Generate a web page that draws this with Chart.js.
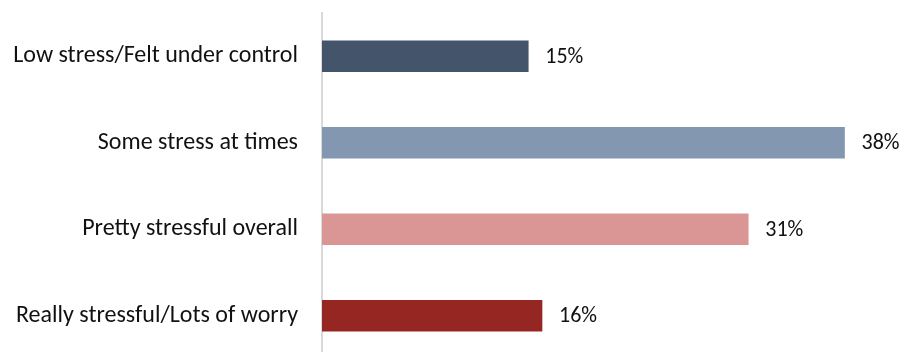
<!DOCTYPE html>
<html><head><meta charset="utf-8">
<script src="https://cdn.jsdelivr.net/npm/chart.js@4"></script>
<style>html,body{margin:0;padding:0;overflow:hidden;background:#fff;width:903px;height:352px}</style>
</head><body>
<canvas id="c" width="903" height="359"></canvas>
<script>
const categories = ["Low stress/Felt under control","Some stress at times","Pretty stressful overall","Really stressful/Lots of worry"];
const values = [15, 38, 31, 16];
const valueLabels = ["15%","38%","31%","16%"];
const barColors = ["#44546A","#8497B0","#DA9694","#962622"];
const FONT = "Carlito, Calibri, Lato, sans-serif";
const FS = 24;
const VFS = 22;

const labelPlugin = {
  id: 'valLabels',
  afterDatasetsDraw(chart) {
    const ctx = chart.ctx;
    const meta = chart.getDatasetMeta(0);
    ctx.save();
    ctx.font = VFS + "px " + FONT;
    ctx.fillStyle = "#111";
    ctx.textAlign = "left";
    ctx.textBaseline = "middle";
    meta.data.forEach((bar, i) => {
      ctx.fillText(valueLabels[i], bar.x + 17, bar.y + 1);
    });
    ctx.restore();
  }
};

new Chart(document.getElementById('c'), {
  type: 'bar',
  data: { labels: categories, datasets: [{ data: values, backgroundColor: barColors, barThickness: 31 }] },
  options: {
    indexAxis: 'y',
    responsive: false,
    animation: false,
    layout: { padding: { top: 13, right: 31, bottom: 0, left: 0 } },
    plugins: { legend: { display: false }, tooltip: { enabled: false } },
    scales: {
      x: { display: false, min: 0, max: 40 },
      y: {
        afterFit(scale) { scale.width = 322; scale.paddingTop = 0; scale.paddingBottom = 0; },
        grid: { display: false },
        border: { display: true, color: '#D9D9D9', width: 2 },
        ticks: { color: '#111', padding: 16, font: { family: FONT, size: FS } }
      }
    }
  },
  plugins: [labelPlugin]
});
</script>
</body></html>
